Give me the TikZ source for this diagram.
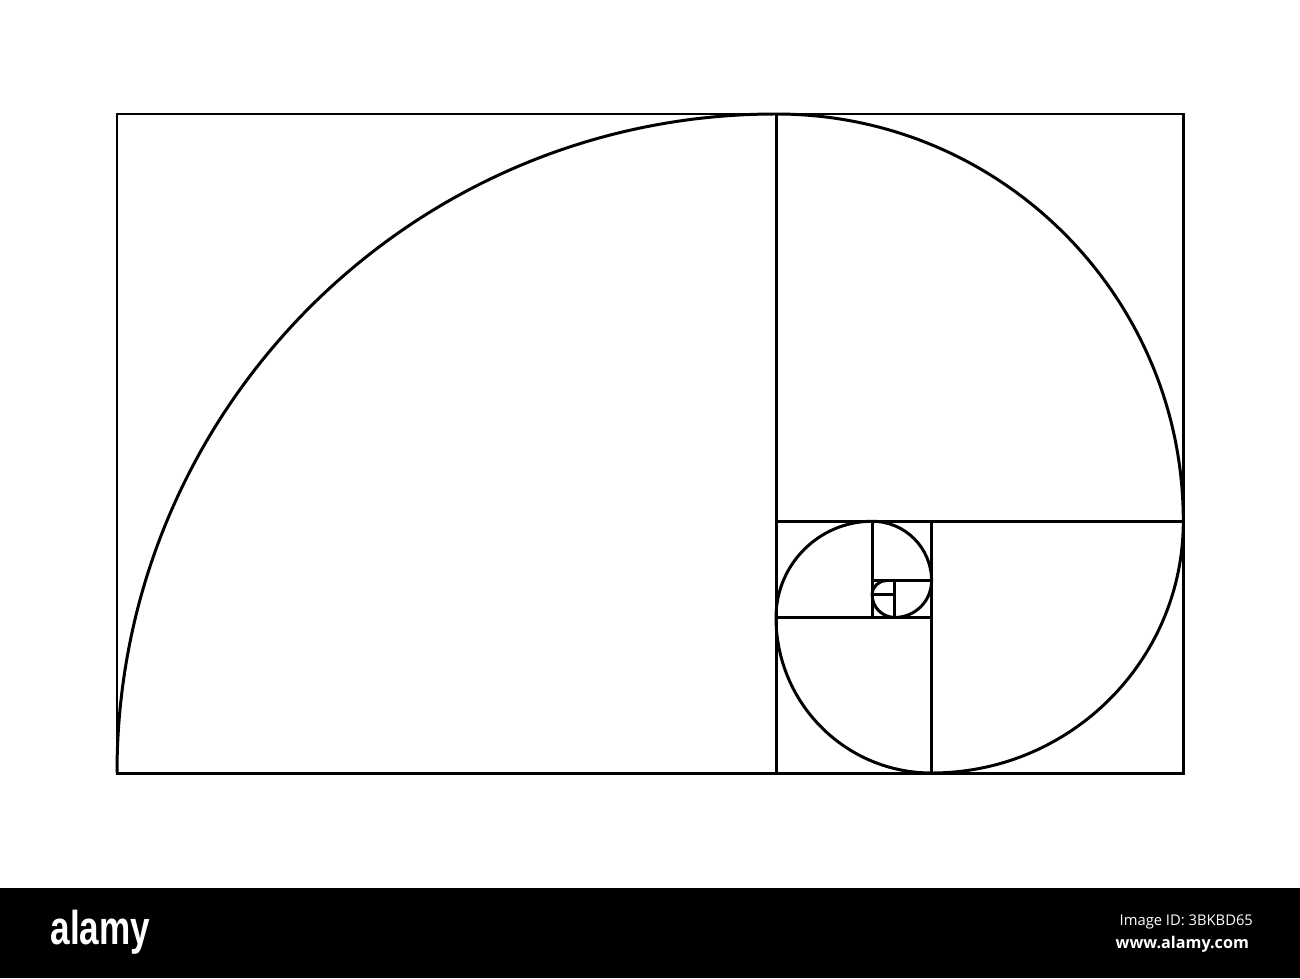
\documentclass[tikz,border=0pt]{standalone}
\usepackage{fontspec}
\setmainfont{Liberation Sans}
\newfontfamily\idfont{Open Sans}
\usepackage{tikz}

\tikzset{
	spiral/.style={line width=0.85pt, line join=miter},
	watermark/.style={text=white, inner sep=0pt}
}

\begin{document}
\begin{tikzpicture}
		\useasboundingbox (0,0) rectangle (13,9.78);
		\fill[white] (0,0) rectangle (13,9.78);
		% golden spiral, one quarter arc per square
		\draw[spiral] (1.17,2.05)
			\foreach \k in {0,...,8} {
				coordinate (a\k)
				arc[start angle={180-90*\k}, end angle={90-90*\k}, radius={6.59/1.618034^\k}]
				coordinate (b\k)
			};
		\foreach \k in {0,...,7}
			\draw[spiral] (a\k) rectangle (b\k);
		\draw[spiral] (1.17,2.05) rectangle (11.83,8.64);
		% bottom bar
		\fill[black] (0,0) rectangle (13,0.9);
		\node[watermark, anchor=base west, xscale=0.74] (logo) at (0.50,0.34)
			{\fontsize{13.5}{13.5}\selectfont\bfseries alamy};
		\node[watermark, anchor=base west] (imgid) at (11.19,0.53)
			{\idfont\fontsize{4.2}{5}\selectfont Image ID: 3BKBD65};
		\node[watermark, anchor=base west] (site) at (11.15,0.30)
			{\idfont\fontsize{4.6}{5}\selectfont\bfseries www.alamy.com};
		\end{tikzpicture}
\end{document}
